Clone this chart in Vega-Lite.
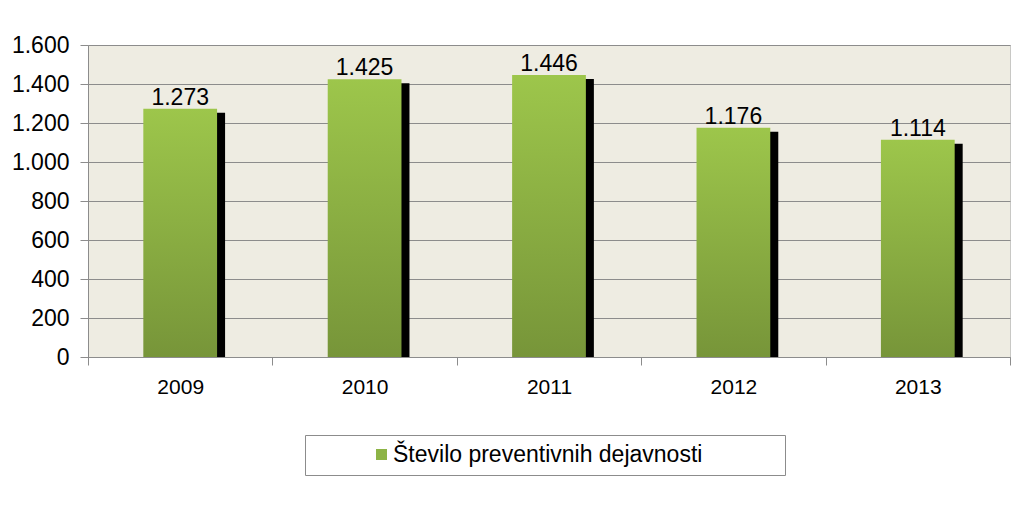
{
  "$schema": "https://vega.github.io/schema/vega-lite/v6.json",
  "width": 922,
  "height": 312,
  "autosize": {"type": "none"},
  "padding": {"left": 88, "top": 45, "right": 19, "bottom": 154},
  "background": "white",
  "config": {
    "locale": {"number": {"decimal": ",", "thousands": ".", "grouping": [3], "currency": ["", " €"]}},
    "font": "Liberation Sans",
    "view": {"fill": "#eeece2", "stroke": "#9a9a9a", "strokeDash": [1, 1]}
  },
  "data": {
    "values": [
      {"year": "2009", "value": 1273, "series": "Število preventivnih dejavnosti"},
      {"year": "2010", "value": 1425, "series": "Število preventivnih dejavnosti"},
      {"year": "2011", "value": 1446, "series": "Število preventivnih dejavnosti"},
      {"year": "2012", "value": 1176, "series": "Število preventivnih dejavnosti"},
      {"year": "2013", "value": 1114, "series": "Število preventivnih dejavnosti"}
    ]
  },
  "encoding": {
    "x": {
      "field": "year", "type": "ordinal", "title": null,
      "scale": {"paddingInner": 0, "paddingOuter": 0},
      "axis": {
        "labelAngle": 0, "labelFontSize": 21, "labelColor": "#000", "labelPadding": 11,
        "tickBand": "extent", "tickSize": 8, "tickColor": "#8c8c8c", "domainColor": "#8c8c8c", "grid": false
      }
    },
    "y": {
      "field": "value", "type": "quantitative", "title": null,
      "scale": {"domain": [0, 1600], "nice": false},
      "axis": {
        "values": [0, 200, 400, 600, 800, 1000, 1200, 1400, 1600], "format": ",d",
        "labelFontSize": 23, "labelColor": "#000", "labelPadding": 11,
        "tickSize": 8, "tickColor": "#8c8c8c", "domainColor": "#8c8c8c",
        "grid": true, "gridColor": "#8c8c8c", "gridWidth": 1
      }
    }
  },
  "layer": [
    {
      "mark": {"type": "bar", "color": "black", "width": {"band": 0.4}, "xOffset": 8, "yOffset": 4, "clip": true}
    },
    {
      "mark": {"type": "bar", "width": {"band": 0.4}, "color": {"gradient": "linear", "x1": 0, "y1": 0, "x2": 0, "y2": 1, "stops": [{"offset": 0, "color": "#9dc64b"}, {"offset": 1, "color": "#779539"}]}}
    },
    {
      "mark": {"type": "text", "baseline": "alphabetic", "dy": -4, "fontSize": 23, "color": "#000"},
      "encoding": {
        "text": {"field": "value", "type": "quantitative", "format": ",d"}
      }
    },
    {
      "mark": {"type": "text", "baseline": "alphabetic", "fontSize": 22},
      "encoding": {
        "text": {"value": ""},
        "color": {
          "field": "series", "type": "nominal",
          "scale": {"range": ["#8db446"]},
          "legend": {
            "title": "\u00a0", "titleOrient": "right", "titlePadding": 75, "titleFontSize": 22,
            "orient": "none", "legendX": 217, "legendY": 390,
            "symbolType": "square", "symbolSize": 121, "symbolStrokeWidth": 0, "symbolOpacity": 1,
            "labelFontSize": 23, "labelColor": "#000", "labelLimit": 500, "labelOffset": 0,
            "padding": 8, "symbolOffset": 57,
            "strokeColor": "#8c8c8c", "fillColor": "white",
            "encode": {
              "symbols": {"update": {"fill": {"value": {"gradient": "linear", "x1": 0, "y1": 0, "x2": 0, "y2": 1, "stops": [{"offset": 0, "color": "#9dc64b"}, {"offset": 1, "color": "#779539"}]}}}}
            }
          }
        }
      }
    }
  ]
}
